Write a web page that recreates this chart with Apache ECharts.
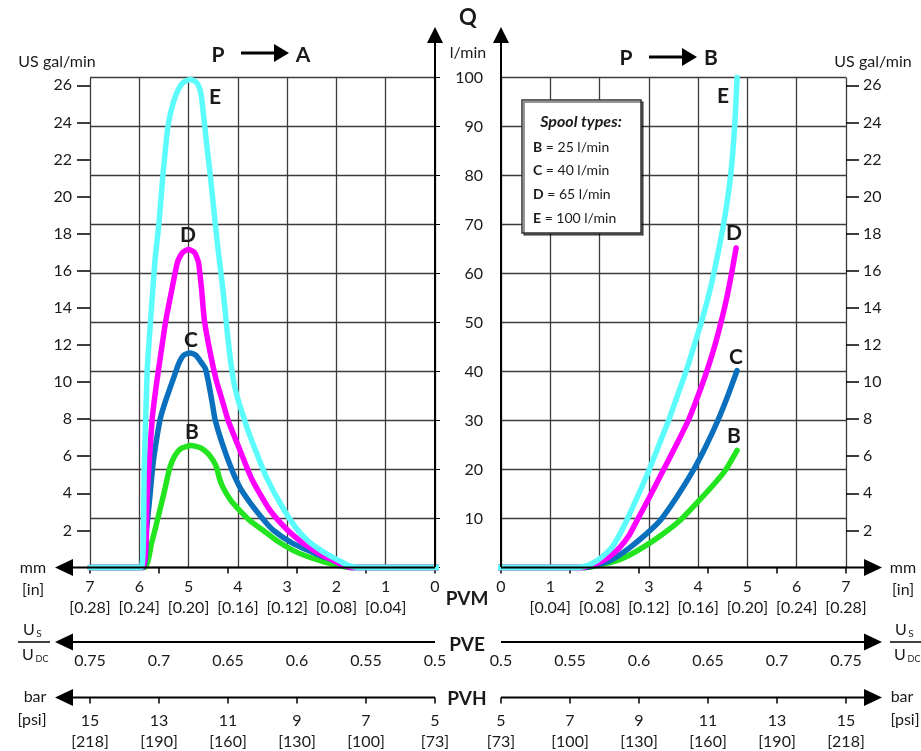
<!DOCTYPE html>
<html><head><meta charset="utf-8">
<script src="https://cdn.jsdelivr.net/npm/echarts@6/dist/echarts.min.js"></script>
<style>html,body{margin:0;padding:0;background:#fff}#c{width:921px;height:751px}</style>
</head><body><div id="c"></div>
<script>
const FONT = 'Lato, "Open Sans", sans-serif';

// ---- axis tick data ----
const mmTicks = [0, 1, 2, 3, 4, 5, 6, 7];
const inchLabels = ['', '[0.04]', '[0.08]', '[0.12]', '[0.16]', '[0.20]', '[0.24]', '[0.28]'];
const pveTicks = [0.5, 0.55, 0.6, 0.65, 0.7, 0.75];
const pvhBar = [5, 7, 9, 11, 13, 15];
const pvhPsi = ['[73]', '[100]', '[130]', '[160]', '[190]', '[218]'];
const galTicks = [2, 4, 6, 8, 10, 12, 14, 16, 18, 20, 22, 24, 26];
const LPM_PER_GAL = 3.785;
const Q_MAX = 100;

// ---- spool types ----
const spoolNames = ['B', 'C', 'D', 'E'];
const spoolRated = [25, 40, 65, 100];
const spoolColors = ['#22e51f', '#0a6fbd', '#ff00ff', '#5cfcfc'];

// ---- P -> A (left half), [stroke mm, Q l/min] ----
const leftB = [[7,0],[5.9,0],[5.75,5],[5.6,11],[5.48,16],[5.38,20.4],[5.28,22.8],[5.15,24.3],[4.95,24.9],[4.75,24.4],[4.6,23.2],[4.5,21.8],[4.43,20.4],[4.38,18.4],[4.3,16.3],[4.15,13.8],[3.96,11.6],[3.75,9.5],[3.49,7.6],[3.2,5.4],[2.88,3.5],[2.6,2.3],[2.33,1.4],[2.0,0.5],[1.72,0],[0,0],[-0.7,0]];
const leftC = [[7,0],[5.93,0],[5.85,8],[5.78,15],[5.72,21.3],[5.58,30.1],[5.48,33.6],[5.3,38.8],[5.2,41.6],[5.1,43.3],[4.97,43.8],[4.85,43.3],[4.74,41.8],[4.66,40.6],[4.6,38],[4.52,33.6],[4.46,30.1],[4.3,24.8],[4.12,19.9],[3.95,16.2],[3.75,13.2],[3.5,10],[3.29,7.7],[2.9,5],[2.6,3.6],[2.3,2.3],[2.07,1.5],[1.9,0.6],[1.72,0],[0,0],[-0.7,0]];
const leftD = [[7,0],[5.94,0],[5.84,15],[5.74,30.1],[5.66,36.8],[5.56,43.8],[5.46,50.5],[5.33,57.2],[5.22,62.5],[5.12,64.3],[5.0,64.9],[4.88,64.3],[4.8,62.3],[4.74,57.2],[4.68,50.5],[4.56,43.8],[4.44,38.3],[4.32,34.2],[4.2,30.1],[3.96,24.0],[3.71,17.9],[3.35,11.7],[3.0,7.7],[2.72,5.3],[2.47,3.6],[2.25,2.3],[2.07,1.5],[1.9,0.6],[1.72,0],[0,0],[-0.7,0]];
const leftE = [[7,0],[5.96,0],[5.9,20],[5.84,40],[5.76,52],[5.68,62.8],[5.6,70.3],[5.52,80.1],[5.42,89.9],[5.35,93.4],[5.25,96.6],[5.12,98.9],[4.97,99.6],[4.84,99],[4.77,97.6],[4.73,95.4],[4.67,89.9],[4.62,85.2],[4.56,80.1],[4.46,70.3],[4.4,64.8],[4.3,56.5],[4.22,48.5],[4.16,43.2],[4.12,40.2],[4.07,37.2],[4.0,34.4],[3.9,31.2],[3.81,28.4],[3.61,23.1],[3.41,18.2],[3.1,12.4],[2.8,7.8],[2.55,5.2],[2.33,3.6],[2.12,2.3],[1.93,1.3],[1.75,0.4],[1.58,0],[0,0],[-0.7,0]];

// ---- P -> B (right half) ----
const rightB = [[-0.7,0],[0,0],[1.74,0],[2.0,0.5],[2.35,1.4],[2.6,2.5],[2.88,4.1],[3.25,6.6],[3.63,9.6],[4.02,13.7],[4.32,17],[4.55,19.8],[4.79,23.9]];
const rightC = [[-0.7,0],[0,0],[1.72,0],[2.0,0.7],[2.21,1.4],[2.4,2.5],[2.62,4.1],[2.92,6.6],[3.23,9.6],[3.58,14.6],[3.9,19.8],[4.16,24.8],[4.4,30],[4.6,35],[4.79,40.2]];
const rightD = [[-0.7,0],[0,0],[1.6,0],[1.85,0.5],[2.07,1.4],[2.25,2.6],[2.41,4.1],[2.6,6.6],[2.76,9.6],[3.03,14.7],[3.29,19.8],[3.55,24.9],[3.8,30],[4.0,35.1],[4.18,40.2],[4.33,45],[4.46,49.9],[4.58,55],[4.68,60.1],[4.77,65.2]];
const rightE = [[-0.7,0],[0,0],[1.54,0],[1.75,0.4],[1.95,1.4],[2.1,2.6],[2.25,4.1],[2.4,6.6],[2.55,9.6],[2.78,14.7],[3.0,19.8],[3.2,24.9],[3.4,30],[3.58,35.1],[3.76,40.2],[3.91,45],[4.06,49.9],[4.2,55],[4.32,60.1],[4.52,70.3],[4.66,80.1],[4.74,89.9],[4.79,100]];

const leftData = [leftB, leftC, leftD, leftE];
const rightData = [rightB, rightC, rightD, rightE];

const TXT = '#1a1a1a';
const GRIDC = '#3c3c3c';

function mmFmt(v) {
  const i = mmTicks.indexOf(Math.round(v));
  return '{a|' + v + '}' + (inchLabels[i] ? '\n{b|' + inchLabels[i] + '}' : '');
}
function pveFmt(v) { return String(+(+v).toFixed(2)); }
function pvhFmt(v) {
  const i = pvhBar.indexOf(Math.round(v));
  return '{a|' + Math.round(v) + '}\n{b|' + pvhPsi[i] + '}';
}
const richMM = { a: { fontSize: 16, fontFamily: FONT, color: TXT, lineHeight: 21 }, b: { fontSize: 16, fontFamily: FONT, color: TXT, lineHeight: 21 } };
const richPVH = { a: { fontSize: 16, fontFamily: FONT, color: TXT, lineHeight: 21 }, b: { fontSize: 16, fontFamily: FONT, color: TXT, lineHeight: 21 } };

function xAxesFor(grid, inverse) {
  return [
    { gridIndex: grid, type: 'value', min: 0, max: 7, interval: 1, inverse: inverse, position: 'bottom',
      axisLine: { show: false }, axisTick: { show: false },
      splitLine: { show: true, lineStyle: { color: GRIDC, width: 1.3 } },
      axisLabel: { margin: 9, formatter: mmFmt, rich: richMM } },
    { gridIndex: grid, type: 'value', min: 0.5, max: 0.75, inverse: inverse, position: 'bottom', offset: 75,
      axisLine: { show: false }, splitLine: { show: false },
      axisTick: { show: true, customValues: pveTicks, length: 6, lineStyle: { color: '#000', width: 1.5 } },
      axisLabel: { customValues: pveTicks, margin: 10, formatter: pveFmt, fontSize: 16, fontFamily: FONT, color: TXT } },
    { gridIndex: grid, type: 'value', min: 5, max: 15, inverse: inverse, position: 'bottom', offset: 130,
      axisLine: { show: false }, splitLine: { show: false },
      axisTick: { show: true, customValues: pvhBar, length: 6, lineStyle: { color: '#000', width: 1.5 } },
      axisLabel: { customValues: pvhBar, margin: 13, formatter: pvhFmt, rich: richPVH } }
  ];
}

const series = [];
spoolNames.forEach((n, i) => {
  series.push({ name: n + ' left', type: 'line', xAxisIndex: 0, yAxisIndex: 0, data: leftData[i],
    showSymbol: false, smooth: 0.2, clip: false, z: 3 + i,
    lineStyle: { color: spoolColors[i], width: 5.5, cap: 'round', join: 'round' } });
  series.push({ name: n + ' right', type: 'line', xAxisIndex: 3, yAxisIndex: 2, data: rightData[i],
    showSymbol: false, smooth: 0.2, clip: false, z: 3 + i,
    lineStyle: { color: spoolColors[i], width: 5.5, cap: 'round', join: 'round' } });
});

function txt(x, y, s, size, bold, extra) {
  return Object.assign({ type: 'text', x: x, y: y, z: 50,
    style: Object.assign({ text: s, fill: TXT, fontSize: size, fontFamily: FONT, fontWeight: bold ? 'bold' : 'normal',
      align: 'center', verticalAlign: 'middle' }, extra || {}) });
}
function line(x1, y1, x2, y2, w) {
  return { type: 'line', z: 40, shape: { x1, y1, x2, y2 }, style: { stroke: '#000', lineWidth: w || 2 } };
}
function tri(pts) {
  return { type: 'polygon', z: 40, shape: { points: pts }, style: { fill: '#000' } };
}
function leftArrow(y) {
  return [line(70, y, 435, y, 2), tri([[55, y], [73, y - 8.5], [73, y + 8.5]])];
}
function rightArrow(y) {
  return [line(501, y, 868, y, 2), tri([[882, y], [864, y - 8.5], [864, y + 8.5]])];
}

const graphics = [
  // vertical Q axes with arrows
  line(435, 40, 435, 567, 2), tri([[435, 27], [427, 43], [443, 43]]),
  line(501, 40, 501, 567, 2), tri([[501, 27], [493, 43], [509, 43]]),
  ...leftArrow(567.5), ...rightArrow(567.5),
  ...leftArrow(642), ...rightArrow(642),
  ...leftArrow(697.5), ...rightArrow(697.5),
  // titles
  txt(468, 18, 'Q', 22, true),
  txt(468, 53, 'l/min', 16, false),
  txt(57, 62, 'US gal/min', 16, false),
  txt(873, 62, 'US gal/min', 16, false),
  txt(218, 55, 'P', 21, true), line(241, 53, 276, 53, 3), tri([[289, 53], [274, 44], [274, 62]]), txt(303, 55, 'A', 21, true),
  txt(626, 58, 'P', 21, true), line(649, 57, 683, 57, 3), tri([[697, 57], [682, 48], [682, 66]]), txt(711, 58, 'B', 21, true),
  // bottom side labels
  txt(33, 568, 'mm', 16, false), txt(33, 590, '[in]', 16, false),
  txt(903, 568, 'mm', 16, false), txt(903, 590, '[in]', 16, false),
  txt(467, 599, 'PVM', 19, true), txt(467, 645, 'PVE', 19, true), txt(467, 699, 'PVH', 19, true),
  txt(35, 697, 'bar', 16, false), txt(32, 720, '[psi]', 16, false),
  txt(902, 697, 'bar', 16, false), txt(905, 720, '[psi]', 16, false),
  // fractions Us / Udc
  txt(29, 630, 'U', 16, false), txt(39, 634, 'S', 10, false),
  line(18, 642, 50, 642, 1.5),
  txt(28, 655, 'U', 16, false), txt(42, 659, 'DC', 9, false),
  txt(901, 630, 'U', 16, false), txt(911, 634, 'S', 10, false),
  line(890, 642, 921, 642, 1.5),
  txt(900, 655, 'U', 16, false), txt(914, 659, 'DC', 9, false),
  // curve letters
  txt(215, 97, 'E', 21, true), txt(188, 235, 'D', 21, true), txt(191, 340, 'C', 21, true), txt(192, 432, 'B', 21, true),
  txt(723, 96, 'E', 21, true), txt(734, 233, 'D', 21, true), txt(736, 357, 'C', 21, true), txt(734, 436, 'B', 21, true),
  // legend box
  { type: 'rect', z: 45, shape: { x: 522, y: 100, width: 119, height: 133 },
    style: { fill: '#fff', stroke: '#333', lineWidth: 1.5, shadowColor: 'rgba(0,0,0,0.55)', shadowOffsetX: 2, shadowOffsetY: 2, shadowBlur: 0 } },
  txt(581, 122, 'Spool types:', 16, true, { fontStyle: 'italic' })
];
spoolNames.forEach((n, i) => {
  graphics.push({ type: 'text', x: 533, y: 147 + i * 23.7, z: 50,
    style: { text: '{b|' + n + '} = ' + spoolRated[i] + ' l/min', fill: TXT, fontSize: 14, fontFamily: FONT,
      align: 'left', verticalAlign: 'middle',
      rich: { b: { fontWeight: 'bold', fontSize: 14, fontFamily: FONT, fill: TXT } } } });
});

const option = {
  backgroundColor: '#fff',
  animation: false,
  textStyle: { fontFamily: FONT },
  grid: [
    { left: 90, top: 77.5, width: 345, height: 490, outerBoundsMode: 'none' },
    { left: 501, top: 77.5, width: 345, height: 490, outerBoundsMode: 'none' }
  ],
  xAxis: [...xAxesFor(0, true), ...xAxesFor(1, false)],
  yAxis: [
    { gridIndex: 0, type: 'value', min: 0, max: Q_MAX, interval: 10, position: 'right',
      axisLine: { show: true, lineStyle: { color: '#000', width: 2 } },
      axisTick: { show: true, length: 5, lineStyle: { color: '#000' } },
      axisLabel: { align: 'right', margin: 48, fontSize: 16, fontFamily: FONT, color: TXT, formatter: v => (v === 0 ? '' : String(v)) },
      splitLine: { show: true, lineStyle: { color: GRIDC, width: 1.3 } } },
    { gridIndex: 0, type: 'value', min: 0, max: Q_MAX / LPM_PER_GAL, position: 'left',
      axisLine: { show: false }, splitLine: { show: false },
      axisTick: { show: true, customValues: galTicks, length: 13, lineStyle: { color: '#000', width: 1.5 } },
      axisLabel: { customValues: galTicks, margin: 18, fontSize: 16, fontFamily: FONT, color: TXT } },
    { gridIndex: 1, type: 'value', min: 0, max: Q_MAX, interval: 10, position: 'left',
      axisLine: { show: true, lineStyle: { color: '#000', width: 2 } },
      axisTick: { show: false }, axisLabel: { show: false },
      splitLine: { show: true, lineStyle: { color: GRIDC, width: 1.3 } } },
    { gridIndex: 1, type: 'value', min: 0, max: Q_MAX / LPM_PER_GAL, position: 'right',
      axisLine: { show: false }, splitLine: { show: false },
      axisTick: { show: true, customValues: galTicks, length: 13, lineStyle: { color: '#000', width: 1.5 } },
      axisLabel: { customValues: galTicks, margin: 17, fontSize: 16, fontFamily: FONT, color: TXT } }
  ],
  series: series,
  graphic: graphics
};

const chart = echarts.init(document.getElementById('c'), null, { renderer: 'canvas' });
chart.setOption(option);
</script>
</body></html>
